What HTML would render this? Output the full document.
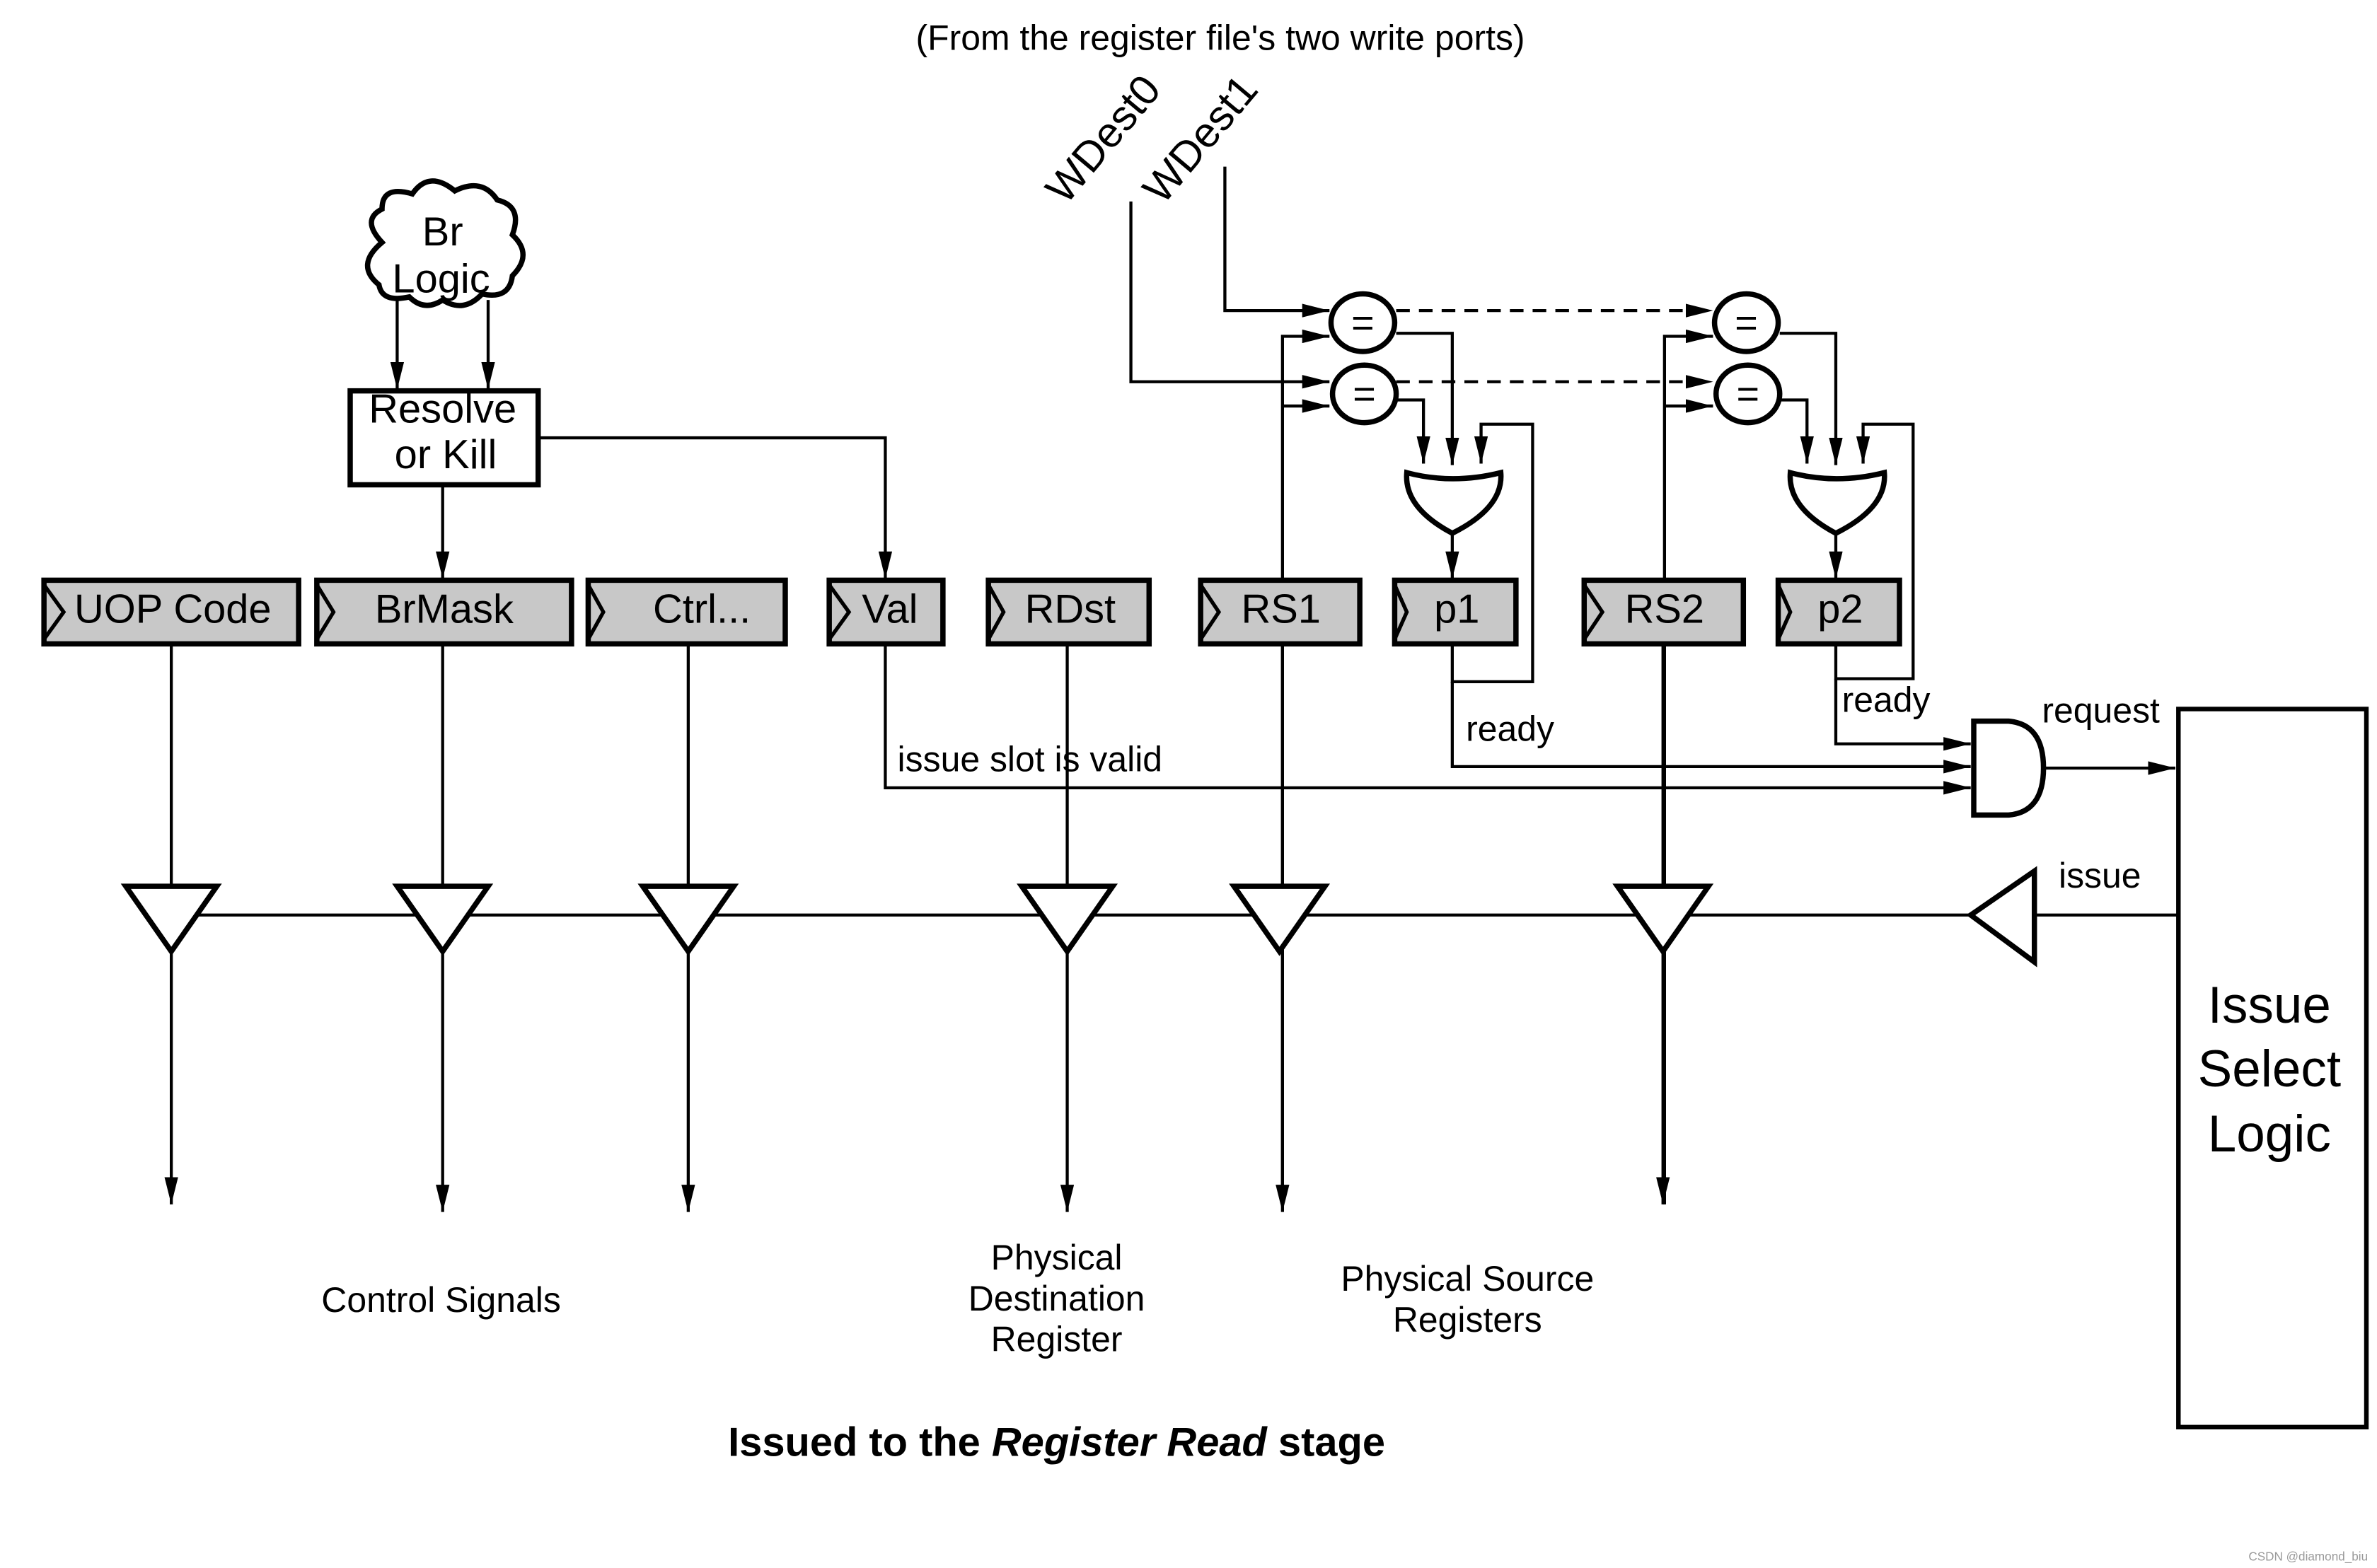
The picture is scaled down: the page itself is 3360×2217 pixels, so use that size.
<!DOCTYPE html>
<html><head><meta charset="utf-8"><style>
html,body{margin:0;padding:0;background:#fff;}
svg{display:block;}
text{font-family:"Liberation Sans Narrow","Liberation Sans",sans-serif;fill:#000;}
</style></head><body>
<svg width="3360" height="2217" viewBox="0 0 1568 1035" preserveAspectRatio="none" xmlns="http://www.w3.org/2000/svg">
<defs>
<marker id="b" markerWidth="18" markerHeight="9" refX="18" refY="4.5" orient="auto" markerUnits="userSpaceOnUse" viewBox="0 0 18 9"><path d="M0,0 L18,4.5 L0,9 Z" fill="#000"/></marker>
</defs>
<rect width="1568" height="1035" fill="#fff"/>
<text x="805" y="33" font-size="23.3" text-anchor="middle" style="font-family:'Liberation Sans',sans-serif">(From the register file's two write ports)</text>
<text x="0" y="0" font-size="28" transform="translate(703,136) rotate(-50)" style="font-family:'Liberation Sans',sans-serif">WDest0</text>
<text x="0" y="0" font-size="28" transform="translate(767,136) rotate(-50)" style="font-family:'Liberation Sans',sans-serif">WDest1</text>

<g fill="none" stroke="#000" stroke-width="2">
<path d="M808,110 V205 H877" marker-end="url(#b)"/>
<path d="M746,133 V252 H877" marker-end="url(#b)"/>
<path d="M846,795 V222 H877" marker-end="url(#b)"/>
<path d="M846,268 H877" marker-end="url(#b)"/>
<path d="M1098,795 V222 H1130" marker-end="url(#b)"/>
<path d="M1098,268 H1130" marker-end="url(#b)"/>
<path d="M921,205 H1130" stroke-dasharray="9,6" marker-end="url(#b)"/>
<path d="M921,252 H1130" stroke-dasharray="9,6" marker-end="url(#b)"/>
<path d="M921,220 H958 V307" marker-end="url(#b)"/>
<path d="M922,264 H939 V306" marker-end="url(#b)"/>
<path d="M958,425 V450 H1011 V280 H977 V306" marker-end="url(#b)"/>
<path d="M958,352 V382" marker-end="url(#b)"/>
<path d="M1174,220 H1211 V307" marker-end="url(#b)"/>
<path d="M1175,264 H1192 V306" marker-end="url(#b)"/>
<path d="M1211,425 V448 H1262 V280 H1229 V306" marker-end="url(#b)"/>
<path d="M1211,352 V382" marker-end="url(#b)"/>
<path d="M1211,448 V491 H1300" marker-end="url(#b)"/>
<path d="M958,450 V506 H1300" marker-end="url(#b)"/>
<path d="M584,425 V520 H1300" marker-end="url(#b)"/>
<path d="M1348,507 H1435" marker-end="url(#b)"/>
<path d="M262,198 V257" marker-end="url(#b)"/>
<path d="M322,198 V257" marker-end="url(#b)"/>
<path d="M292,320 V382" marker-end="url(#b)"/>
<path d="M355,289 H584 V382" marker-end="url(#b)"/>
<path d="M113,604 H1300"/>
<path d="M1437,604 H1342"/>
<path d="M113,425 V795" marker-end="url(#b)"/>
<path d="M292,425 V800" marker-end="url(#b)"/>
<path d="M454,425 V800" marker-end="url(#b)"/>
<path d="M704,425 V800" marker-end="url(#b)"/>
<path d="M846,425 V800" marker-end="url(#b)"/>
<path d="M1097,425 V795" marker-end="url(#b)"/>
</g>

<g fill="#fff" stroke="#000" stroke-width="3.5">
<ellipse cx="899" cy="213" rx="21" ry="19"/>
<ellipse cx="900" cy="260" rx="21" ry="19"/>
<ellipse cx="1152" cy="213" rx="21" ry="19"/>
<ellipse cx="1153" cy="260" rx="21" ry="19"/>
<path d="M928,312 Q958,320 990,312 Q992,335 958,352 Q926,335 928,312 Z"/>
<path d="M1181,312 Q1211,320 1243,312 Q1245,335 1211,352 Q1179,335 1181,312 Z"/>
<path d="M1302,476 H1325 Q1348,478 1348,507 Q1348,536 1325,538 H1302 Z"/>
<path d="M83,585 H143 L113,628 Z"/>
<path d="M262,585 H322 L292,628 Z"/>
<path d="M424,585 H484 L454,628 Z"/>
<path d="M674,585 H734 L704,628 Z"/>
<path d="M814,585 H874 L844,628 Z"/>
<path d="M1067,585 H1127 L1097,628 Z"/>
<path d="M1342,575 V635 L1300,604 Z"/>
<rect x="231" y="258" width="124" height="62"/>
<rect x="1437" y="468" width="124" height="474" stroke-width="3"/>
<path d="M252,160 Q238,145 252,138 Q252,122 272,128 Q283,112 300,126 Q318,117 328,132 Q345,136 338,155 Q352,168 338,182 Q336,198 318,194 Q306,207 292,198 Q280,206 270,196 Q252,200 250,188 Q234,175 252,160 Z"/>
</g>
<g font-size="26" text-anchor="middle">
<text x="899" y="222">=</text><text x="900" y="269">=</text>
<text x="1152" y="222">=</text><text x="1153" y="269">=</text>
</g>

<g fill="#c8c8c8" stroke="#000" stroke-width="3.5">
<rect x="29" y="383" width="168" height="42"/>
<rect x="209" y="383" width="168" height="42"/>
<rect x="388" y="383" width="130" height="42"/>
<rect x="547" y="383" width="75" height="42"/>
<rect x="652" y="383" width="106" height="42"/>
<rect x="792" y="383" width="105" height="42"/>
<rect x="920" y="383" width="80" height="42"/>
<rect x="1045" y="383" width="105" height="42"/>
<rect x="1173" y="383" width="80" height="42"/>
</g>
<g fill="none" stroke="#000" stroke-width="2.5">
<path d="M29,386 L42,404 L29,422"/>
<path d="M209,386 L220,404 L209,422"/>
<path d="M388,386 L398,404 L388,422"/>
<path d="M547,386 L560,404 L547,422"/>
<path d="M652,386 L662,404 L652,422"/>
<path d="M792,386 L804,404 L792,422"/>
<path d="M920,386 L928,404 L920,422"/>
<path d="M1045,386 L1057,404 L1045,422"/>
<path d="M1173,386 L1181,404 L1173,422"/>
</g>
<g font-size="27" text-anchor="middle">
<text x="114" y="411">UOP Code</text>
<text x="293" y="411">BrMask</text>
<text x="463" y="411">Ctrl...</text>
<text x="587" y="411">Val</text>
<text x="706" y="411">RDst</text>
<text x="845" y="411">RS1</text>
<text x="961" y="411">p1</text>
<text x="1098" y="411">RS2</text>
<text x="1214" y="411">p2</text>
<text x="292" y="162">Br</text>
<text x="291" y="193">Logic</text>
<text x="292" y="279">Resolve</text>
<text x="294" y="309">or Kill</text>
</g>
<g font-size="23.3" style="font-family:'Liberation Sans',sans-serif">
<text x="592" y="509">issue slot is valid</text>
<text x="967" y="489">ready</text>
<text x="1215" y="470">ready</text>
<text x="1347" y="477">request</text>
<text x="1358" y="586">issue</text>
<text x="291" y="866" text-anchor="middle">Control Signals</text>
<text x="697" y="838" text-anchor="middle">Physical</text>
<text x="697" y="865" text-anchor="middle">Destination</text>
<text x="697" y="892" text-anchor="middle">Register</text>
<text x="968" y="852" text-anchor="middle">Physical Source</text>
<text x="968" y="879" text-anchor="middle">Registers</text>
</g>
<g font-size="34" text-anchor="middle" style="font-family:'Liberation Sans',sans-serif">
<text x="1497" y="675">Issue</text>
<text x="1497" y="717">Select</text>
<text x="1497" y="760">Logic</text>
</g>
<text x="697" y="961" font-size="27" font-weight="bold" text-anchor="middle" style="font-family:'Liberation Sans',sans-serif">Issued to the <tspan font-style="italic">Register Read</tspan> stage</text>
<text x="1562" y="1030" font-size="8" text-anchor="end" style="font-family:'Liberation Sans',sans-serif;fill:#999">CSDN @diamond_biu</text>
</svg>
</body></html>
